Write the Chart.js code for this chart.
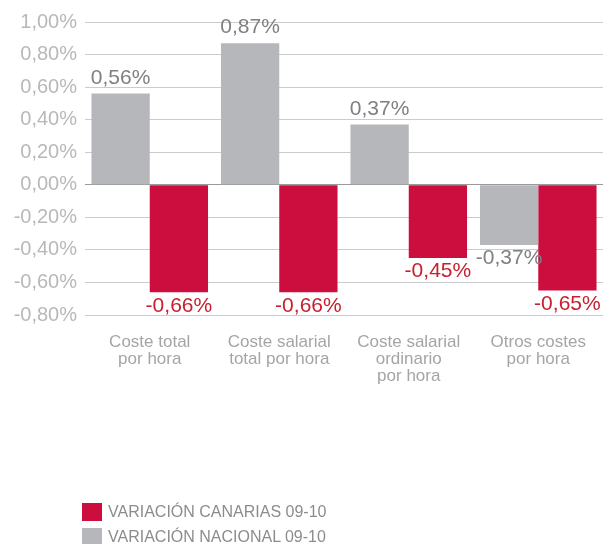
<!DOCTYPE html>
<html><head><meta charset="utf-8">
<script src="https://cdn.jsdelivr.net/npm/chart.js@4/dist/chart.umd.min.js"></script>
<style>
html,body{margin:0;padding:0;background:#fff;overflow:hidden;}
#wrap{position:relative;width:603px;height:544px;overflow:hidden;}
#legend{position:absolute;left:82px;top:503px;font-family:"Liberation Sans",Arial,sans-serif;font-size:16px;color:#8c8c8c;}
#legend div{display:flex;align-items:center;height:18px;margin-bottom:7px;line-height:18px;}
#legend span.box{display:inline-block;width:20px;height:18px;margin-right:6px;}
</style></head>
<body><div id="wrap"><canvas id="c" width="603" height="544"></canvas><div id="legend"></div></div>
<script>
const categories = [["Coste total","por hora"],["Coste salarial","total por hora"],["Coste salarial","ordinario","por hora"],["Otros costes","por hora"]];
const nacional = [0.56, 0.87, 0.37, -0.37];
const canarias = [-0.66, -0.66, -0.45, -0.65];
const seriesNames = ["VARIACIÓN NACIONAL 09-10","VARIACIÓN CANARIAS 09-10"];
const yMin = -0.8, yMax = 1.0, yStep = 0.2;

const fmt = v => v.toFixed(2).replace('.', ',') + '%';
const GREY = '#b6b7ba', RED = '#cc0e3f';
const LABEL_COLORS = ['#7f8083', '#c8202f'];

const valueLabels = {
  id: 'valueLabels',
  afterDatasetsDraw(chart) {
    const ctx = chart.ctx;
    ctx.save();
    ctx.font = '21px "Liberation Sans", Arial, sans-serif';
    ctx.textAlign = 'center';
    chart.data.datasets.forEach((ds, di) => {
      const meta = chart.getDatasetMeta(di);
      ctx.fillStyle = LABEL_COLORS[di];
      meta.data.forEach((bar, i) => {
        const v = ds.data[i];
        if (v >= 0) { ctx.textBaseline = 'bottom'; ctx.fillText(fmt(v), bar.x, bar.y - 5); }
        else { ctx.textBaseline = 'top'; ctx.fillText(fmt(v), bar.x, bar.y + 3); }
      });
    });
    ctx.restore();
  }
};

const chart = new Chart(document.getElementById('c'), {
  type: 'bar',
  data: {
    labels: categories,
    datasets: [
      { label: seriesNames[0], data: nacional, backgroundColor: GREY },
      { label: seriesNames[1], data: canarias, backgroundColor: RED }
    ]
  },
  options: {
    responsive: false,
    animation: false,
    events: [],
    layout: { padding: { top: 22, right: 0, left: 0, bottom: 0 } },
    datasets: { bar: { categoryPercentage: 0.9, barPercentage: 1.0 } },
    plugins: { legend: { display: false }, tooltip: { enabled: false } },
    scales: {
      x: {
        grid: { display: false },
        border: { display: false },
        ticks: { color: '#a5a5a5', font: { family: '"Liberation Sans", Arial, sans-serif', size: 17, lineHeight: 1.0 }, padding: 11, maxRotation: 0 },
        afterFit(s) { s.height = 229; }
      },
      y: {
        min: yMin, max: yMax,
        border: { display: false },
        grid: { drawTicks: false, color: c => (c.tick && Math.abs(c.tick.value) < 1e-9) ? '#9a9a9a' : '#cbcbcb', lineWidth: 1 },
        ticks: { stepSize: yStep, padding: 8, color: '#b8b8b8', font: { family: '"Liberation Sans", Arial, sans-serif', size: 20 }, callback: v => fmt(v) },
        afterFit(s) { s.width = 85; }
      }
    }
  },
  plugins: [valueLabels]
});

const leg = document.getElementById('legend');
[1, 0].forEach(di => {
  const ds = chart.data.datasets[di];
  const row = document.createElement('div');
  const box = document.createElement('span'); box.className = 'box'; box.style.background = ds.backgroundColor;
  const t = document.createElement('span'); t.textContent = ds.label;
  row.appendChild(box); row.appendChild(t); leg.appendChild(row);
});
</script></body></html>
